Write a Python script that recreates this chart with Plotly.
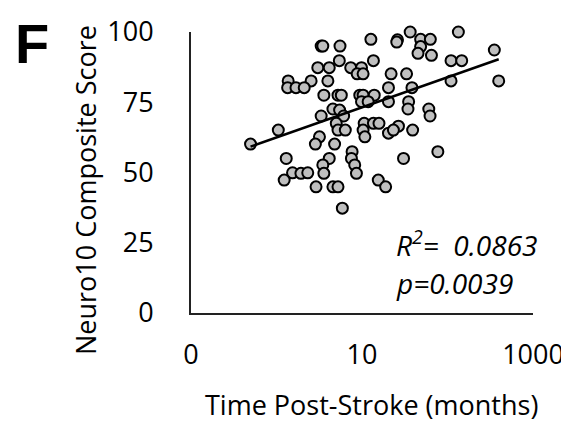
import plotly.graph_objects as go

# Time post-stroke (months) and Neuro10 composite score
time_months = [
    134, 36.6, 48.5, 63, 26, 25.5, 12.7, 3.33, 3.48, 5.53,
    48.5, 45.2, 64.9, 353, 110, 146.6, 13.6, 5.43, 3.04, 4.14,
    7.38, 9.87, 8.78, 10.3, 21.9, 33.2, 1.37, 2.54, 3.99, 1.35,
    1.69, 2.11, 110, 397, 20.4, 38.4, 3.58, 5.24, 5.73, 9.42,
    10.3, 13.9, 9.87, 11.8, 20.4, 35.1, 4.57, 5.47, 34.5, 60.4,
    62.5, 3.33, 6.1, 1.05, 5.0, 10.6, 13.6, 15.8, 26.7, 5.24,
    6.38, 10.3, 20.4, 23.3, 39.1, 3.18, 2.85, 10.8, 4.78, 0.497,
    7.66, 77.1, 1.30, 4.14, 7.52, 30.6, 3.48, 8.22, 1.54, 1.93,
    2.32, 1.23, 3.58, 2.9, 4.57, 5.24, 5.89, 8.61, 15.5, 18.9,
]
score = [
    100, 100, 97.4, 97.4, 97.2, 96.4, 97.4, 95, 95, 95,
    94.8, 92.4, 91.7, 93.6, 89.8, 89.8, 89.8, 89.8, 87.3, 87.3,
    87.3, 87.3, 85.1, 85.1, 85.1, 85.1, 82.6, 82.6, 82.6, 80.2,
    80.2, 80.2, 82.6, 82.6, 80.2, 80.2, 77.5, 77.5, 77.5, 77.5,
    77.5, 77.5, 75.2, 75.2, 75.2, 75.2, 72.6, 72.2, 72.6, 72.6,
    70.1, 70.1, 70.1, 65.1, 67.5, 67.5, 67.5, 67.5, 66.5, 65.1,
    65.1, 65.1, 64, 65.1, 65.1, 62.7, 60.1, 62.7, 60.1, 60.1,
    57.4, 57.4, 55, 55, 55, 55, 52.7, 52.7, 49.9, 49.7,
    49.9, 47.3, 49.7, 44.9, 44.9, 44.9, 37.3, 49.7, 47.3, 44.9,
]

# Logarithmic trendline endpoints
trend_x = [0.497, 397]
trend_y = [59.2, 90.3]

x_tickvals = [0.1, 10, 1000]
x_ticktext = ["0", "10", "1000"]
y_tickvals = [0, 25, 50, 75, 100]

FONT = "'Open Sans', Lato, sans-serif"
FS = 27

# page body has an 8px margin: lay out the figure in window pixels minus that
OFF = 8
W, H = 569 - OFF, 422 - OFF
L, T = 191 - OFF, 32 - OFF
R = W - (533 - OFF)
B = H - (313 - OFF)
pw, ph = W - L - R, H - T - B


def ann(text, wx, wy, **kw):
    px, py = wx - OFF, wy - OFF
    d = dict(text=text, x=(px - L) / pw, y=1 - (py - T) / ph,
             xref="paper", yref="paper", showarrow=False,
             xanchor="center", yanchor="middle")
    d.update(kw)
    return d


fig = go.Figure()
fig.add_trace(go.Scatter(
    x=time_months, y=score, mode="markers",
    marker=dict(size=11, color="#BFBFBF", line=dict(color="black", width=2)),
    showlegend=False, cliponaxis=False,
))
fig.add_trace(go.Scatter(
    x=trend_x, y=trend_y, mode="lines",
    line=dict(color="black", width=2.5), showlegend=False,
))

fig.update_layout(
    width=W, height=H,
    margin=dict(l=L, r=R, t=T, b=B),
    paper_bgcolor="white", plot_bgcolor="white",
    font=dict(family=FONT, size=FS, color="black"),
    xaxis=dict(
        type="log", range=[-1, 3], tickvals=x_tickvals, ticktext=x_ticktext,
        showgrid=False, zeroline=False, showline=True, linecolor="#222",
        linewidth=2, ticks="", ticklabelstandoff=17, automargin=False,
        tickfont=dict(size=FS),
    ),
    yaxis=dict(
        range=[0, 100], tickvals=y_tickvals,
        showgrid=False, zeroline=False, showline=True, linecolor="#222",
        linewidth=2, ticks="", ticklabelstandoff=30, automargin=False,
        tickfont=dict(size=FS),
    ),
    annotations=[
        ann("<b>F</b>", 32, 43, font=dict(size=56, family="'Liberation Sans Narrow', 'Liberation Sans', Arial")),
        ann("Neuro10 Composite Score", 85, 190, textangle=-90, font=dict(size=FS)),
        ann("Time Post-Stroke (months)", 371, 404, font=dict(size=FS)),
        ann("<i>R<sup>2</sup>=&nbsp; 0.0863</i>", 394, 243, xanchor="left", font=dict(size=28)),
        ann("<i>p=0.0039</i>", 394, 283, xanchor="left", font=dict(size=28)),
    ],
)

fig.write_html("out.html")
